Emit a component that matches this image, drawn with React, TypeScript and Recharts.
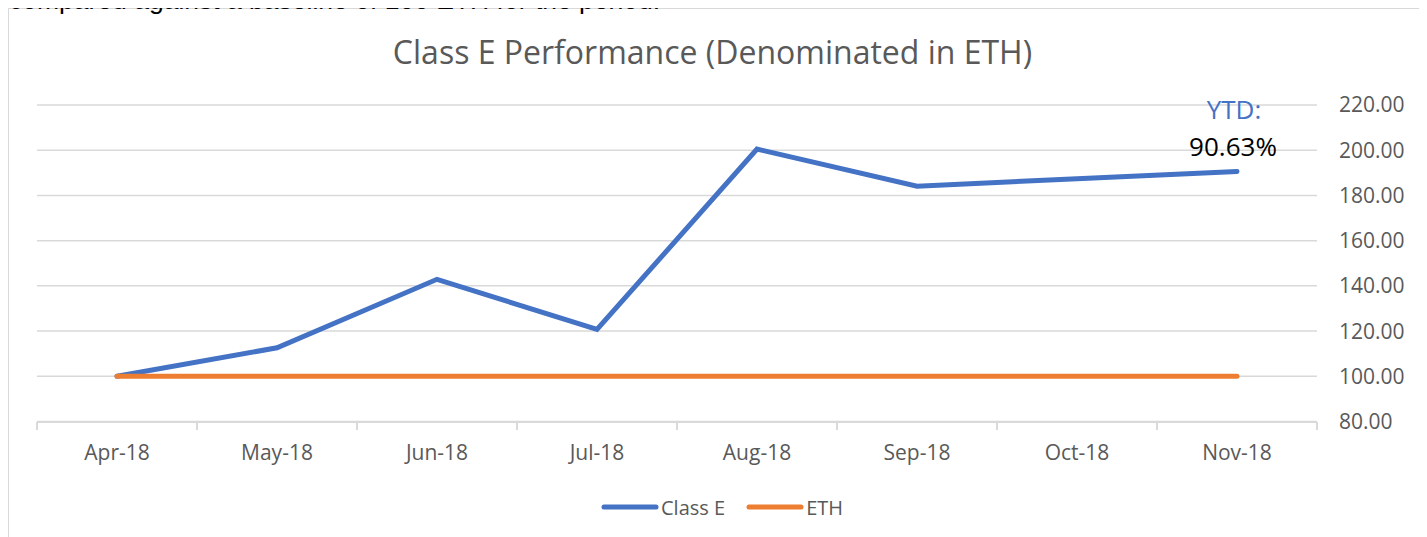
import React from 'react';
import { LineChart, Line, XAxis, YAxis, CartesianGrid, Legend } from 'recharts';

const categories = ['Apr-18', 'May-18', 'Jun-18', 'Jul-18', 'Aug-18', 'Sep-18', 'Oct-18', 'Nov-18'];
const classEValues = [100, 112.6, 142.9, 120.7, 200.5, 184.1, 187.4, 190.63];
const ethValues = [100, 100, 100, 100, 100, 100, 100, 100];
const yTicks = [80, 100, 120, 140, 160, 180, 200, 220];
const boundaryTicks = [0, 1, 2, 3, 4, 5, 6, 7, 8];
const labelTicks = categories.map((_, i) => i + 0.5);

const FONT = '"Open Sans", sans-serif';
const GRAY = '#595959';
const GRID = '#d9d9d9';
const BLUE = '#4472c4';
const ORANGE = '#ed7d31';

const data = categories.map((c, i) => ({ x: i + 0.5, cat: c, classE: classEValues[i], eth: ethValues[i] }));

const ytd = ((classEValues[classEValues.length - 1] / classEValues[0]) - 1) * 100;

const renderYtd = (props: any) => {
  const { x, y, index } = props;
  if (index !== classEValues.length - 1) return <g key={`l${index}`} />;
  return (
    <g key={`l${index}`}>
      <text x={x - 3} y={y - 52} textAnchor="middle" fontFamily={FONT} fontSize={26} fill={BLUE}>YTD:</text>
      <text x={x - 4} y={y - 15} textAnchor="middle" fontFamily={FONT} fontSize={26} fill="#000">{ytd.toFixed(2)}%</text>
    </g>
  );
};

const BoundaryTick = (props: any) => {
  const { x, y } = props;
  return <line x1={x} y1={y - 8} x2={x} y2={y} stroke={GRID} strokeWidth={2} />;
};

const LegendContent = (props: any) => {
  const payload = props.payload || [];
  return (
    <div style={{ display: 'flex', justifyContent: 'center', alignItems: 'center', height: 40, fontFamily: FONT, fontSize: 20, color: GRAY }}>
      {payload.map((p: any, i: number) => (
        <div key={p.value} style={{ display: 'flex', alignItems: 'center', marginLeft: i === 0 ? 0 : 21 }}>
          <svg width={58} height={10} style={{ display: 'block' }}>
            <line x1={3} y1={5} x2={55} y2={5} stroke={p.color} strokeWidth={5} strokeLinecap="round" />
          </svg>
          <span style={{ marginLeft: 2 }}>{p.value}</span>
        </div>
      ))}
    </div>
  );
};

export default function App() {
  return (
    <div style={{ position: 'relative' }}>
      <div style={{ position: 'absolute', zIndex: 5, left: 1, top: -23, fontFamily: '"Liberation Sans", Arial, sans-serif', fontSize: 26.5, lineHeight: '30px', color: '#000', whiteSpace: 'nowrap' }}>
        compared against a baseline of 100 ETH for the period.
      </div>
      <div style={{ position: 'relative', width: 1415, height: 560, boxSizing: 'border-box', borderTop: `1px solid ${GRID}`, borderLeft: `1px solid ${GRID}`, borderRight: `1px solid ${GRID}`, background: '#fff' }}>
        <div style={{ position: 'absolute', left: 0, top: 23, width: '100%', textAlign: 'center', fontFamily: FONT, fontSize: 32, lineHeight: '40px', color: GRAY, paddingRight: 6, boxSizing: 'border-box' }}>
          Class E Performance (Denominated in ETH)
        </div>
        <LineChart width={1413} height={528} data={data} margin={{ top: 96, right: 15, bottom: 10, left: 28 }}>
          <CartesianGrid horizontal vertical={false} stroke={GRID} strokeWidth={1.5} xAxisId="ticks" yAxisId="y" />
          <XAxis
            xAxisId="labels"
            dataKey="x"
            type="number"
            domain={[0, 8]}
            ticks={labelTicks}
            interval={0}
            height={0.5}
            axisLine={false}
            tickLine={false}
            tickSize={0}
            tickMargin={24}
            tickFormatter={(v: number) => categories[Math.floor(v)]}
            tick={{ fill: GRAY, fontSize: 21, fontFamily: FONT }}
            allowDataOverflow
          />
          <XAxis
            xAxisId="ticks"
            dataKey="x"
            type="number"
            domain={[0, 8]}
            ticks={boundaryTicks}
            interval={0}
            height={65}
            tick={<BoundaryTick />}
            tickSize={0}
            tickMargin={8}
            axisLine={{ stroke: GRID, strokeWidth: 2 }}
            tickLine={false}
            allowDataOverflow
          />
          <YAxis
            yAxisId="y"
            orientation="right"
            type="number"
            domain={[80, 220]}
            ticks={yTicks}
            interval={0}
            width={90}
            axisLine={false}
            tickLine={false}
            tickSize={0}
            tickMargin={22}
            tickFormatter={(v: number) => v.toFixed(2)}
            tick={{ fill: GRAY, fontSize: 21, fontFamily: FONT, textAnchor: 'start' }}
          />
          <Legend verticalAlign="bottom" align="center" content={<LegendContent />} />
          <Line
            xAxisId="labels"
            yAxisId="y"
            type="linear"
            dataKey="classE"
            name="Class E"
            stroke={BLUE}
            strokeWidth={5}
            strokeLinecap="round"
            strokeLinejoin="miter"
            dot={false}
            activeDot={false}
            isAnimationActive={false}
            label={renderYtd}
          />
          <Line
            xAxisId="labels"
            yAxisId="y"
            type="linear"
            dataKey="eth"
            name="ETH"
            stroke={ORANGE}
            strokeWidth={5}
            strokeLinecap="round"
            dot={false}
            activeDot={false}
            isAnimationActive={false}
          />
        </LineChart>
      </div>
    </div>
  );
}
